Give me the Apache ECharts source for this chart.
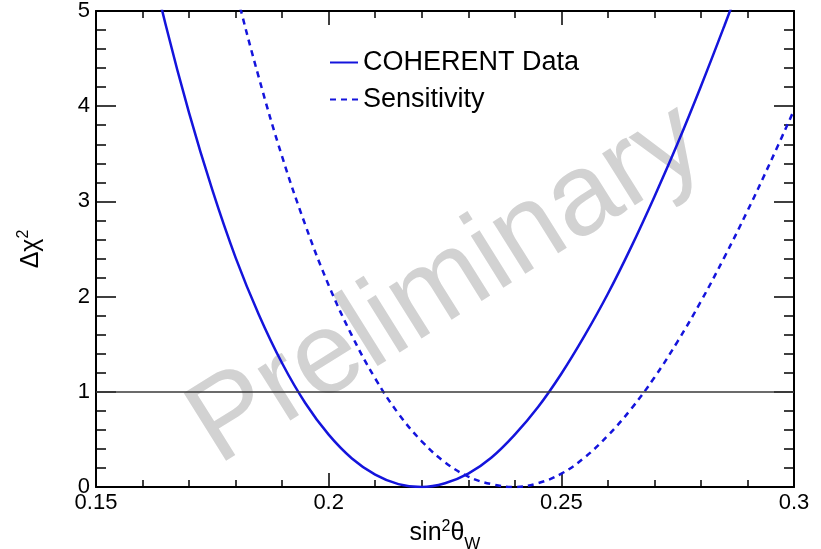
<!DOCTYPE html>
<html>
<head>
<meta charset="utf-8">
<script src="https://cdn.jsdelivr.net/npm/echarts@6/dist/echarts.min.js"></script>
<style>
html,body{margin:0;padding:0;background:#fff;}
#chart{width:821px;height:549px;}
</style>
</head>
<body>
<div id="chart"></div>
<script>
// ---- data ----
const xCoherent = [0.160,0.165,0.170,0.175,0.180,0.185,0.190,0.195,0.200,0.205,0.210,0.215,0.220,0.225,0.230,0.235,0.240,0.245,0.250,0.255,0.260,0.265,0.270,0.275,0.280,0.285,0.290];
const yCoherent = [5.89,4.85,3.93,3.12,2.41,1.81,1.30,0.88,0.55,0.30,0.13,0.03,0.00,0.04,0.14,0.31,0.55,0.84,1.19,1.59,2.03,2.52,3.05,3.61,4.21,4.84,5.49];
const xSensitivity = [0.175,0.180,0.185,0.190,0.195,0.200,0.205,0.210,0.215,0.220,0.225,0.230,0.235,0.240,0.245,0.250,0.255,0.260,0.265,0.270,0.275,0.280,0.285,0.290,0.295,0.300];
const ySensitivity = [6.27,5.23,4.30,3.47,2.75,2.12,1.59,1.14,0.77,0.48,0.26,0.11,0.03,0.00,0.04,0.14,0.31,0.54,0.82,1.15,1.53,1.95,2.41,2.90,3.42,3.96];
const seriesNames = ['COHERENT Data', 'Sensitivity'];
const referenceLevel = 1;
const xRange = [0.15, 0.30];
const xTickStep = 0.05;
const yRange = [0, 5];
const yTickStep = 1;
const watermarkText = 'Preliminary';

const zip = (xs, ys) => xs.map((x, i) => [x, ys[i]]);
const FONT = 'Liberation Sans, Arial, Helvetica, sans-serif';
const BLUE = '#1414dc';

const chart = echarts.init(document.getElementById('chart'), null, {renderer: 'canvas'});

function xAxisCfg(pos, show) {
  return {
    type: 'value', position: pos, min: xRange[0], max: xRange[1], interval: xTickStep,
    axisLine: {show: true, onZero: false, lineStyle: {color: '#000', width: 2}},
    axisTick: {show: true, inside: true, length: 14, lineStyle: {color: '#000', width: 1.5}},
    minorTick: {show: true, splitNumber: 5, length: 7, lineStyle: {color: '#000', width: 1.5}},
    splitLine: {show: false},
    axisLabel: {show: show, color: '#000', fontSize: 22, fontFamily: FONT, margin: 5},
    name: show ? 'sin{sup|2}θ{sub|W}' : '',
    nameLocation: 'middle', nameGap: 19,
    nameTextStyle: {
      color: '#000', fontSize: 25, fontFamily: FONT, lineHeight: 28,
      rich: {
        sup: {fontSize: 16, fontFamily: FONT, color: '#000', verticalAlign: 'top', lineHeight: 16},
        sub: {fontSize: 17, fontFamily: FONT, color: '#000', verticalAlign: 'bottom', lineHeight: 12, padding: [0,0,-6,0]}
      }
    }
  };
}
function yAxisCfg(pos, show) {
  return {
    type: 'value', position: pos, min: yRange[0], max: yRange[1], interval: yTickStep,
    axisLine: {show: true, onZero: false, lineStyle: {color: '#000', width: 2}},
    axisTick: {show: true, inside: true, length: 20, lineStyle: {color: '#000', width: 1.5}},
    minorTick: {show: true, splitNumber: 5, length: 10, lineStyle: {color: '#000', width: 1.5}},
    splitLine: {show: false},
    axisLabel: {show: show, color: '#000', fontSize: 22, fontFamily: FONT, margin: 6},
    name: show ? 'Δχ{sup|2}' : '',
    nameLocation: 'middle', nameGap: 50, nameRotate: 90,
    nameTextStyle: {
      color: '#000', fontSize: 25, fontFamily: FONT, lineHeight: 30,
      rich: {
        sup: {fontSize: 16, fontFamily: FONT, color: '#000', verticalAlign: 'top', lineHeight: 16}
      }
    }
  };
}

const option = {
  backgroundColor: '#fff',
  animation: false,
  grid: {left: 96, right: 27, top: 11, bottom: 62, containLabel: false, outerBoundsMode: 'none'},
  xAxis: [xAxisCfg('bottom', true), xAxisCfg('top', false)],
  yAxis: [yAxisCfg('left', true), yAxisCfg('right', false)],
  legend: {
    orient: 'vertical', left: 329, top: 49, padding: 0,
    itemWidth: 28, itemHeight: 14, itemGap: 10,
    itemStyle: {opacity: 0},
    textStyle: {color: '#000', fontSize: 27, fontFamily: FONT},
    data: seriesNames
  },
  graphic: [{
    type: 'text', z: 0, x: 447, y: 285,
    rotation: 32 * Math.PI / 180,
    silent: true,
    style: {
      text: watermarkText, fill: '#d2d2d2',
      font: '116px ' + FONT,
      align: 'center', verticalAlign: 'middle'
    }
  }],
  series: [
    {
      name: seriesNames[0], type: 'line', xAxisIndex: 0, yAxisIndex: 0,
      data: zip(xCoherent, yCoherent), smooth: 0.4, symbol: 'none', showSymbol: false,
      lineStyle: {color: BLUE, width: 2.5, type: 'solid'}, itemStyle: {color: BLUE},
      clip: true, z: 3,
      markLine: {
        silent: true, symbol: 'none', label: {show: false},
        lineStyle: {color: '#3a3a3a', width: 1.5, type: 'solid'},
        data: [{yAxis: referenceLevel}]
      }
    },
    {
      name: seriesNames[1], type: 'line', xAxisIndex: 0, yAxisIndex: 0,
      data: zip(xSensitivity, ySensitivity), smooth: 0.4, symbol: 'none', showSymbol: false,
      lineStyle: {color: BLUE, width: 2.5, type: [6, 5]}, itemStyle: {color: BLUE},
      clip: true, z: 3
    }
  ]
};
chart.setOption(option);
</script>
</body>
</html>
